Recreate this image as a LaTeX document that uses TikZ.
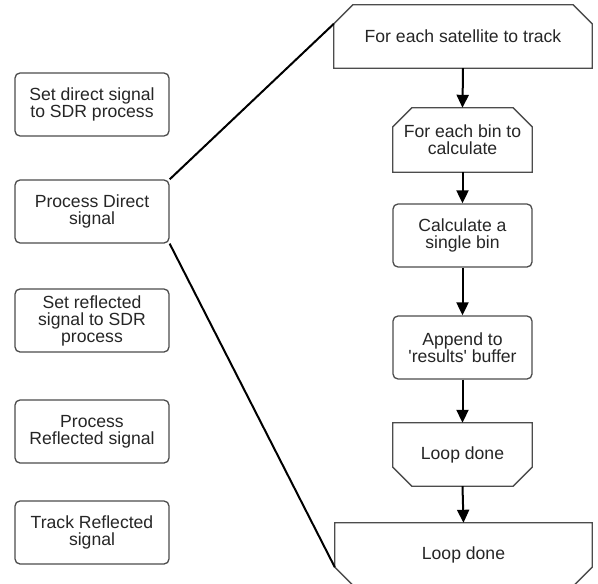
\documentclass[tikz,border=0pt]{standalone}
\usepackage{fontspec}
\setmainfont{Liberation Sans}
\usetikzlibrary{arrows.meta,calc}
\tikzset{
  box/.style={draw=black!70, line width=1.3pt, rounded corners=5pt, align=center,
    minimum width=154pt, minimum height=63pt, inner sep=0pt, text=black!85,
    font=\fontsize{17.6}{17}\selectfont},
  flowbox/.style={box, minimum width=139pt},
  loopnode/.style={align=center, inner sep=0pt, text=black!85,
    font=\fontsize{17.6}{17}\selectfont},
  shapeline/.style={draw=black!70, line width=1.3pt},
  zoomline/.style={draw=black, line width=2pt},
  flowarrow/.style={draw=black, line width=2pt, -{Triangle[length=13pt,width=12pt]}},
}
\begin{document}
\begin{tikzpicture}[x=1pt,y=-1pt]
\fill[white] (0,0) rectangle (598,584);
\useasboundingbox (0,0) rectangle (598,584);
% left column
\node[box] (sd) at (92,104.5) {Set direct signal\\to SDR process};
\node[box] (pd) at (92,211.5) {Process Direct\\signal};
\node[box] (sr) at (92,320.5) {Set reflected\\signal to SDR\\process};
\node[box] (pr) at (92,431.5) {Process\\Reflected signal};
\node[box] (tr) at (92,532.5) {Track Reflected\\signal};
% right column
\node[loopnode, minimum width=258pt, minimum height=63pt] (t1) at (463,36.5) {For each satellite to track};
\draw[shapeline] ([yshift=-19pt]t1.north west) -- ([xshift=19pt]t1.north west) -- ([xshift=-19pt]t1.north east) -- ([yshift=-19pt]t1.north east) -- (t1.south east) -- (t1.south west) -- cycle;
\node[loopnode, minimum width=139pt, minimum height=64pt] (fb) at (462.5,140) {For each bin to\\calculate};
\draw[shapeline] ([yshift=-19pt]fb.north west) -- ([xshift=19pt]fb.north west) -- ([xshift=-19pt]fb.north east) -- ([yshift=-19pt]fb.north east) -- (fb.south east) -- (fb.south west) -- cycle;
\node[flowbox] (cb) at (462.5,235.5) {Calculate a\\single bin};
\node[flowbox] (ap) at (462.5,347.5) {Append to\\\textquotesingle results\textquotesingle{} buffer};
\node[loopnode, minimum width=139pt, minimum height=63pt] (ld) at (462.5,454.5) {Loop done};
\draw[shapeline] (ld.north west) -- (ld.north east) -- ([yshift=19pt]ld.south east) -- ([xshift=-19pt]ld.south east) -- ([xshift=19pt]ld.south west) -- ([yshift=19pt]ld.south west) -- cycle;
\node[loopnode, minimum width=257pt, minimum height=63pt] (b1) at (463.5,554.5) {Loop done};
\draw[shapeline] (b1.north west) -- (b1.north east) -- ([yshift=19pt]b1.south east) -- ([xshift=-19pt]b1.south east) -- ([xshift=19pt]b1.south west) -- ([yshift=19pt]b1.south west) -- cycle;
% zoom lines
\draw[zoomline] (pd.north east) -- ([yshift=-19pt]t1.north west);
\draw[zoomline] (pd.south east) -- ([yshift=19pt]b1.south west);
% arrows
\draw[flowarrow] (t1.south) -- (fb.north);
\draw[flowarrow] (fb.south) -- (cb.north);
\draw[flowarrow] (cb.south) -- (ap.north);
\draw[flowarrow] (ap.south) -- (ld.north);
\draw[flowarrow] (ld.south) -- (b1.north);
\end{tikzpicture}
\end{document}
